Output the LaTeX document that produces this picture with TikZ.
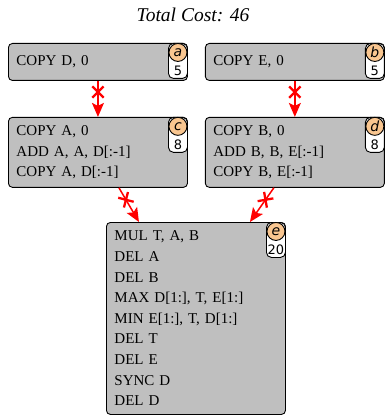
\documentclass[tikz,border=0pt]{standalone}
\usepackage{fontspec}
\setmainfont{Liberation Serif}
\newfontfamily\tagfont{DejaVu Sans}
\usetikzlibrary{positioning,arrows.meta,shapes.misc}
\definecolor{boxgray}{HTML}{BFBFBF}
\definecolor{tagorange}{HTML}{F9C690}

\tikzset{
 opbox/.style={draw,fill=boxgray,rounded corners=4pt,line width=0.9pt,
  minimum width=179pt,text width=163pt,inner xsep=8pt,inner ysep=3pt,
  align=left,font=\fontsize{15}{20.6}\selectfont},
 costtag/.style={draw,fill=white,rounded corners=5pt,line width=0.9pt,
  minimum width=19pt,minimum height=35pt,inner sep=0pt,anchor=north east},
 idcirc/.style={circle,draw,fill=tagorange,line width=0.9pt,minimum size=18pt,
  inner sep=0pt,anchor=north,font=\tagfont\itshape\fontsize{14}{14}\selectfont},
 costnum/.style={inner sep=0pt,anchor=south,yshift=3pt,font=\tagfont\fontsize{13}{13}\selectfont},
 flow/.style={red,line width=1.5pt,-{Stealth[length=14pt,width=12pt,inset=3pt]}},
 cut/.style={cross out,draw=red,line width=2.3pt,minimum width=9pt,minimum height=9pt,inner sep=0pt,sloped}
}

% tag with id letter and cost, hung on the north east corner of a box
\newcommand{\costlabel}[3]{%
 \node[costtag] (#1tag) at (#1.north east) {};
 \node[idcirc] (#1id) at (#1tag.north) {#2};
 \node[costnum] (#1cost) at (#1tag.south) {#3};
}

\begin{document}
\begin{tikzpicture}[x=1pt,y=-1pt,node distance=36pt and 17pt]
 \useasboundingbox (0,0) rectangle (384,417);
 \node[font=\itshape\fontsize{19.5}{22}\selectfont] (title) at (193,15) {Total Cost: 46};

 \node[opbox,anchor=north west,minimum height=37pt] (a) at (8,43) {COPY D, 0};
 \node[opbox,minimum height=37pt,right=of a] (b) {COPY E, 0};
 \node[opbox,minimum height=70pt,below=of a] (c) {COPY A, 0\\ADD A, A, D[:-1]\\COPY A, D[:-1]};
 \node[opbox,minimum height=70pt,below=of b] (d) {COPY B, 0\\ADD B, B, E[:-1]\\COPY B, E[:-1]};
 \node[opbox,anchor=north west,minimum height=192pt] (e) at (106,222)
  {MUL T, A, B\\DEL A\\DEL B\\MAX D[1:], T, E[1:]\\MIN E[1:], T, D[1:]\\DEL T\\DEL E\\SYNC D\\DEL D};

 \costlabel{a}{a}{5}
 \costlabel{b}{b}{5}
 \costlabel{c}{c}{8}
 \costlabel{d}{d}{8}
 \costlabel{e}{e}{20}

 \draw[flow] (a.south) -- node[cut,pos=0.31]{} (c.north);
 \draw[flow] (b.south) -- node[cut,pos=0.31]{} (d.north);
 \draw[flow] ([xshift=21pt]c.south) -- node[cut,pos=0.35]{} ([xshift=-57pt]e.north);
 \draw[flow] ([xshift=-21pt]d.south) -- node[cut,pos=0.35]{} ([xshift=54pt]e.north);
\end{tikzpicture}
\end{document}
